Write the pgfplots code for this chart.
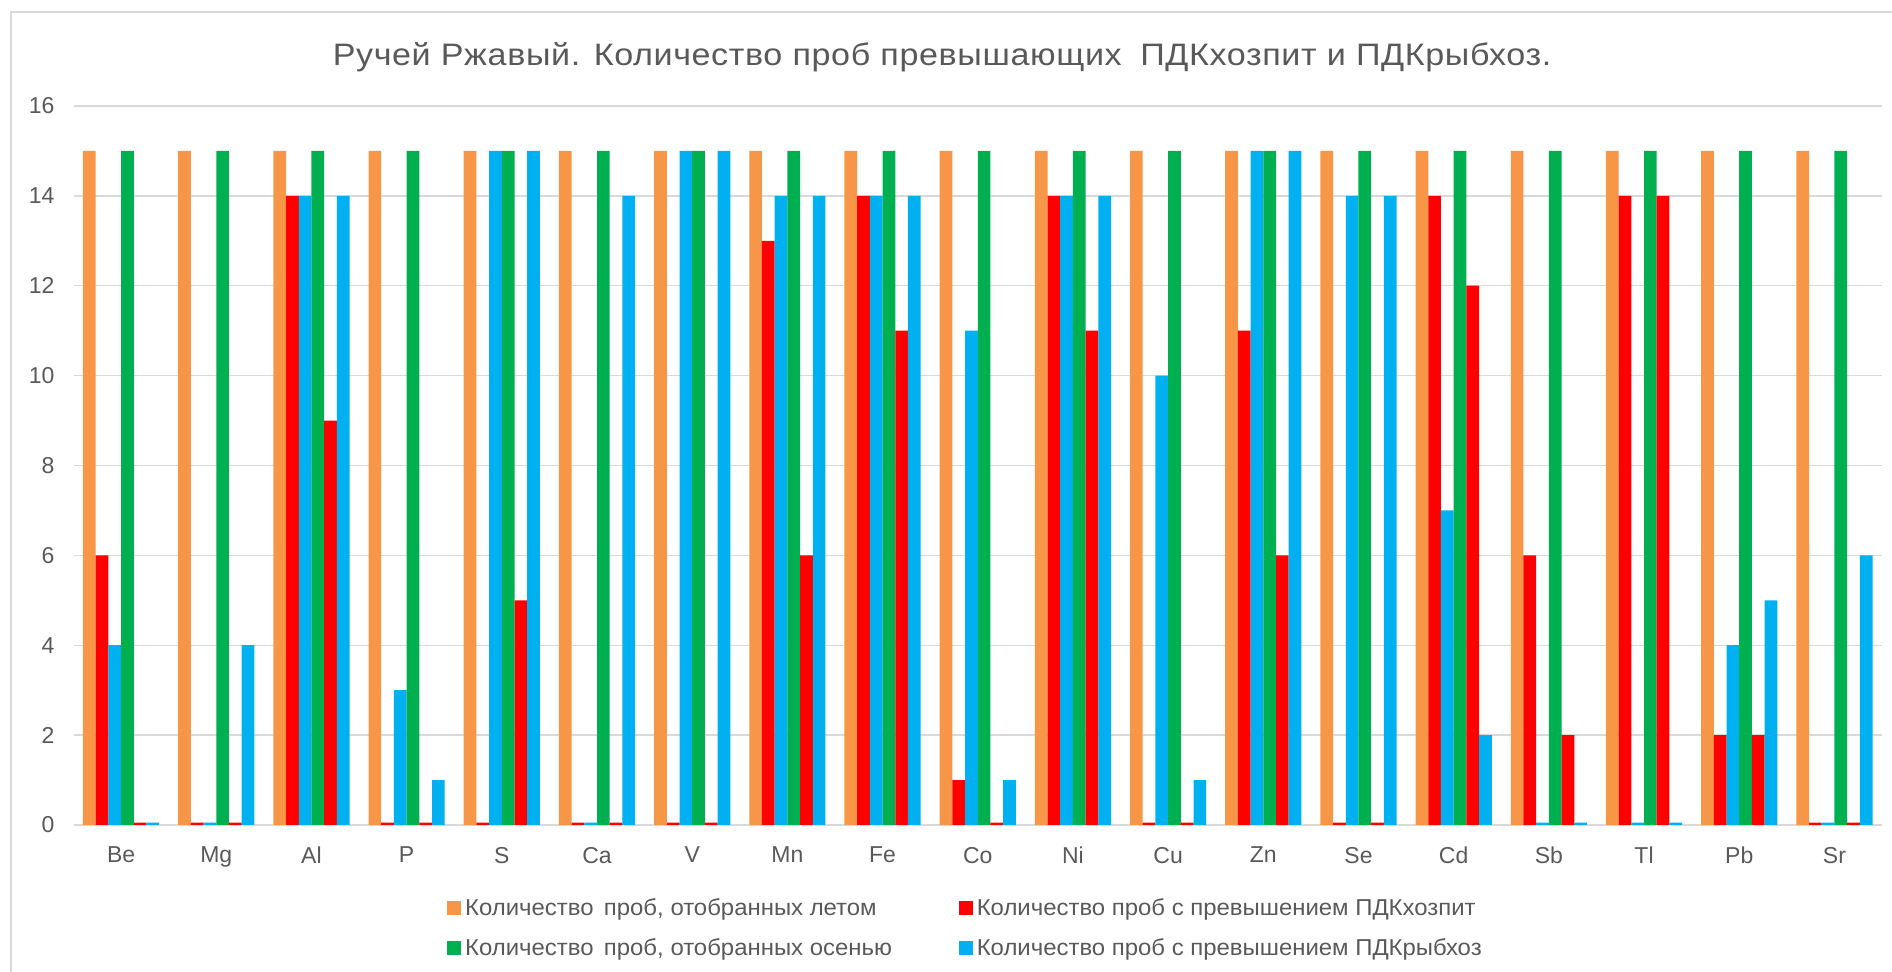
\documentclass[border=0pt]{standalone}
\usepackage{pgfplots}
\pgfplotsset{compat=1.18}
\usepackage{pgfplotstable}
\usepackage{fontspec}
\setmainfont{Liberation Sans}
\newfontfamily\titlefont{Liberation Sans}[FakeStretch=1.1, LetterSpace=2]
\newfontfamily\legfont{Liberation Sans}[FakeStretch=1.04]
\definecolor{cO}{HTML}{F79646}
\definecolor{cR}{HTML}{FF0000}
\definecolor{cB}{HTML}{00B0F0}
\definecolor{cG}{HTML}{00B050}
\definecolor{cText}{HTML}{595959}
\definecolor{cGrid}{HTML}{D9D9D9}
\pgfplotstableread{
cat O R1 B1 G R2 B2
Be 15 6 4 15 0.05 0.05
Mg 15 0.05 0.05 15 0.05 4
Al 15 14 14 15 9 14
P 15 0.05 3 15 0.05 1
S 15 0.05 15 15 5 15
Ca 15 0.05 0.05 15 0.05 14
V 15 0.05 15 15 0.05 15
Mn 15 13 14 15 6 14
Fe 15 14 14 15 11 14
Co 15 1 11 15 0.05 1
Ni 15 14 14 15 11 14
Cu 15 0.05 10 15 0.05 1
Zn 15 11 15 15 6 15
Se 15 0.05 14 15 0.05 14
Cd 15 14 7 15 12 2
Sb 15 6 0.05 15 2 0.05
Tl 15 14 0.05 15 14 0.05
Pb 15 2 4 15 2 5
Sr 15 0.05 0.05 15 0.05 6
}\data
\begin{document}
\begin{tikzpicture}
\useasboundingbox (0,0) rectangle (946pt,486pt);
\draw[color=cGrid, line width=0.7pt] (5.5pt,0) -- (5.5pt,480pt) -- (946pt,480pt);
\node[text=cText, anchor=base, font=\titlefont\fontsize{15.5}{19}\selectfont] at (471pt,453pt) {Ручей Ржавый. Количество проб превышающих\hspace{0.6em}ПДКхозпит и ПДКрыбхоз.};
\begin{axis}[
  at={(36.75pt,73.5pt)}, anchor=south west,
  scale only axis, width=904.25pt, height=359.5pt,
  xmin=-0.5, xmax=18.5, ymin=0, ymax=16,
  ytick={0,2,...,16},
  xtick={0,...,18},
  xticklabels={Be,Mg,Al,P,S,Ca,V,Mn,Fe,Co,Ni,Cu,Zn,Se,Cd,Sb,Tl,Pb,Sr},
  ymajorgrids, grid style={color=cGrid, line width=0.7pt},
  axis line style={draw=none},
  major tick length=0pt,
  tick label style={font=\fontsize{11.5}{13}\selectfont, text=cText},
  /pgf/number format/assume math mode=true,
  yticklabel style={xshift=-6pt},
  xticklabel style={yshift=-7.5pt},
  ybar=0pt, bar width=6.35pt,
  legend columns=2,
  legend cell align=left,
  legend style={draw=none, fill=none, at={(0.2065,-0.096)}, anchor=north west,
    font=\legfont\fontsize{11.5}{13}\selectfont, text=cText, inner sep=0pt,
    /tikz/every even column/.append style={column sep=31.5pt},
    row sep=6pt},
]
\addlegendimage{legend image code/.code={\fill[cO] (0pt,-3.25pt) rectangle (6.5pt,3.25pt);}}
\addlegendentry{Количество\hspace{0.45em}проб, отобранных летом}
\addlegendimage{legend image code/.code={\fill[cR] (0pt,-3.25pt) rectangle (6.5pt,3.25pt);}}
\addlegendentry{Количество проб с превышением ПДКхозпит}
\addlegendimage{legend image code/.code={\fill[cG] (0pt,-3.25pt) rectangle (6.5pt,3.25pt);}}
\addlegendentry{Количество\hspace{0.45em}проб, отобранных осенью}
\addlegendimage{legend image code/.code={\fill[cB] (0pt,-3.25pt) rectangle (6.5pt,3.25pt);}}
\addlegendentry{Количество проб с превышением ПДКрыбхоз}
\addplot[forget plot, fill=cO, draw=none, bar shift=-15.875pt] table[x expr=\coordindex, y=O]{\data};
\addplot[forget plot, fill=cR, draw=none, bar shift=-9.525pt] table[x expr=\coordindex, y=R1]{\data};
\addplot[forget plot, fill=cB, draw=none, bar shift=-3.175pt] table[x expr=\coordindex, y=B1]{\data};
\addplot[forget plot, fill=cG, draw=none, bar shift=3.175pt] table[x expr=\coordindex, y=G]{\data};
\addplot[forget plot, fill=cR, draw=none, bar shift=9.525pt] table[x expr=\coordindex, y=R2]{\data};
\addplot[forget plot, fill=cB, draw=none, bar shift=15.875pt] table[x expr=\coordindex, y=B2]{\data};
\end{axis}
\end{tikzpicture}
\end{document}
